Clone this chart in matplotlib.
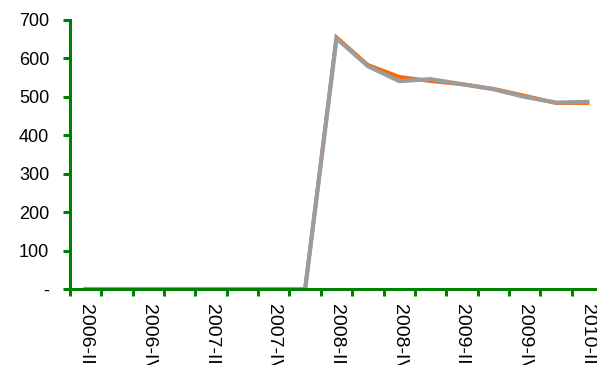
import numpy as np
import matplotlib
matplotlib.use("Agg")
from matplotlib import pyplot as plt
from matplotlib.ticker import FuncFormatter

plt.rcParams['font.family'] = ['Liberation Sans', 'DejaVu Sans']

quarters = ["2006-II", "2006-III", "2006-IV", "2007-I", "2007-II", "2007-III", "2007-IV",
            "2008-I", "2008-II", "2008-III", "2008-IV", "2009-I", "2009-II", "2009-III",
            "2009-IV", "2010-I", "2010-II"]
orange_vals = [0, 0, 0, 0, 0, 0, 0, 0, 655, 583, 552, 541, 533, 521, 503, 484, 484]
grey_vals = [0, 0, 0, 0, 0, 0, 0, 0, 652, 580, 541, 546, 533, 520, 500, 485, 487]

green = "#008000"
x = np.arange(len(quarters))

fig = plt.figure(figsize=(5.97, 3.65), dpi=100)
ax = fig.add_axes([70/597, (365-289)/365, (603-70)/597, (289-20)/365])

ax.plot(x, orange_vals, color="#ff6600", lw=2.8, solid_joinstyle="miter")
ax.plot(x, grey_vals, color="#9c9c9c", lw=3.0, solid_joinstyle="miter")

ax.set_xlim(-0.5, len(quarters) - 0.5)
ax.set_ylim(0, 700)

for s in ["top", "right"]:
    ax.spines[s].set_visible(False)
for s in ["left", "bottom"]:
    ax.spines[s].set_color(green)
    ax.spines[s].set_linewidth(2.2)

ax.set_yticks(np.arange(0, 701, 100))
ax.yaxis.set_major_formatter(FuncFormatter(lambda v, p: "-" if v == 0 else f"{int(v)}"))
ax.tick_params(axis="y", colors=green, direction="out", length=5, width=2.2,
               labelcolor="black", labelsize=13, pad=10)

ax.set_xticks(x[::2])
ax.set_xticklabels(quarters[::2], rotation=270, fontsize=14)
ax.tick_params(axis="x", which="major", length=0, pad=11)
ax.set_xticks(np.arange(-0.5, len(quarters), 1), minor=True)
ax.tick_params(axis="x", which="minor", colors=green, direction="out", length=5, width=2.2)

fig.savefig("out.png", dpi=100)
